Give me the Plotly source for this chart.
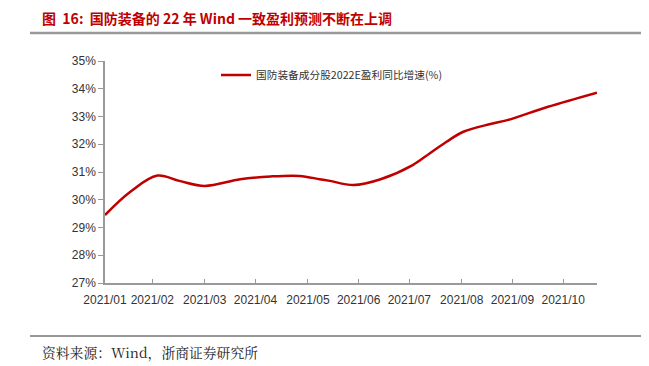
import datetime as dt
import plotly.graph_objects as go

start = dt.date(2021, 1, 4)
day_offsets = [0, 15, 31, 44, 59, 80, 98, 115, 127, 133, 147, 163, 182, 192, 202, 212, 228, 238, 262, 291]
values = [29.45, 30.29, 30.87, 30.68, 30.50, 30.74, 30.84, 30.86, 30.74, 30.68, 30.53, 30.74, 31.25, 31.67, 32.09, 32.45, 32.73, 32.87, 33.35, 33.86]
dates = [start + dt.timedelta(days=d) for d in day_offsets]

tick_offsets = [0, 28, 59, 89, 120, 150, 180, 211, 241, 271]
tick_labels = ["2021/01", "2021/02", "2021/03", "2021/04", "2021/05",
               "2021/06", "2021/07", "2021/08", "2021/09", "2021/10"]
tick_dates = [start + dt.timedelta(days=d) for d in tick_offsets]
end_date = start + dt.timedelta(days=291)

series_name = "国防装备成分股2022E盈利同比增速(%)"
title_text = "图  16:  国防装备的 22 年 Wind 一致盈利预测不断在上调"
source_text = "资料来源：Wind，浙商证券研究所"

# page body has an 8px margin; compensate so the picture lines up
OFF = 8
W, H = 649 - OFF, 366 - OFF
L, R, T, B = 105 - OFF, 649 - 597, 61 - OFF, 366 - 283
pw, ph = W - L - R, H - T - B


def px(xp):
    return (xp - OFF - L) / pw


def py(yp):
    return (H - B - (yp - OFF)) / ph


fig = go.Figure()
fig.add_trace(go.Scatter(
    x=dates, y=values, mode="lines", name=series_name,
    line=dict(color="#C00000", width=2.5, shape="spline", smoothing=1.0),
))

fig.update_layout(
    width=W, height=H,
    margin=dict(l=L, r=R, t=T, b=B, autoexpand=False),
    paper_bgcolor="white", plot_bgcolor="white",
    font=dict(family="Liberation Sans, Arial, sans-serif", size=12, color="#333333"),
    showlegend=True,
    legend=dict(x=px(216), y=py(75), xanchor="left", yanchor="middle",
                bgcolor="rgba(0,0,0,0)",
                font=dict(size=10.7, color="#333333",
                          family="Noto Sans CJK SC, Liberation Sans, sans-serif"),
                itemwidth=30, tracegroupgap=0),
    xaxis=dict(
        type="date", range=[start, end_date],
        tickvals=tick_dates, ticktext=tick_labels,
        showline=True, linecolor="#999999", linewidth=1.5,
        ticks="inside", ticklen=4, tickcolor="#999999",
        ticklabelstandoff=5,
        showgrid=False, zeroline=False,
        tickfont=dict(size=12, color="#333333"),
    ),
    yaxis=dict(
        range=[27, 35], dtick=1, ticksuffix="%",
        showline=True, linecolor="#999999", linewidth=1.5,
        ticks="outside", ticklen=5, tickcolor="#999999",
        showgrid=False, zeroline=False,
        tickfont=dict(size=12, color="#333333"),
    ),
)

fig.add_annotation(
    x=px(40), y=py(18), xref="paper", yref="paper", text="<b>" + title_text + "</b>",
    showarrow=False, xanchor="left", yanchor="middle",
    font=dict(family="Noto Sans CJK SC, sans-serif", size=14, color="#C00000"),
)
fig.add_annotation(
    x=px(40), y=py(352), xref="paper", yref="paper", text=source_text,
    showarrow=False, xanchor="left", yanchor="middle",
    font=dict(family="Noto Serif CJK SC, DejaVu Serif, serif", size=13.8, color="#222222"),
)
fig.add_shape(type="line", xref="paper", yref="paper",
              x0=px(30), x1=px(649), y0=py(33), y1=py(33),
              line=dict(color="#999999", width=2.5))
fig.add_shape(type="line", xref="paper", yref="paper",
              x0=px(30), x1=px(649), y0=py(336), y1=py(336),
              line=dict(color="#333333", width=1))

fig.write_html("out.html")
